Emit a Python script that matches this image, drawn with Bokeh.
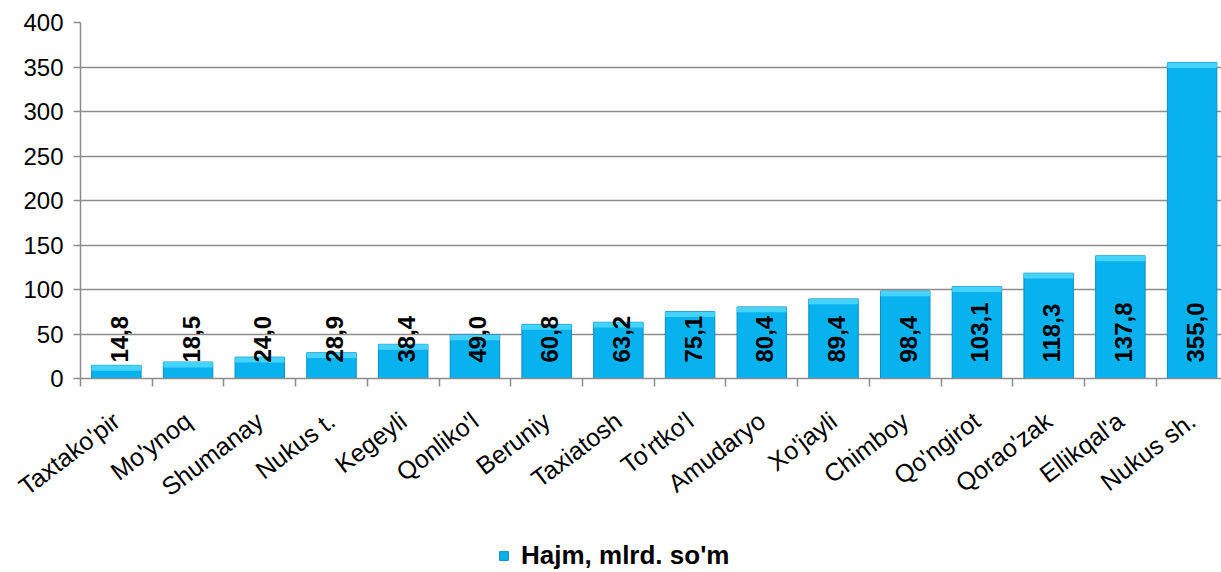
from bokeh.plotting import figure
from bokeh.layouts import column
from bokeh.models import (Range1d, FixedTicker, ColumnDataSource, Legend, LegendItem)
from bokeh.core.properties import value
from bokeh.embed import file_html
from bokeh.resources import INLINE
import math

districts = ["Taxtako'pir", "Mo'ynoq", "Shumanay", "Nukus t.", "Kegeyli", "Qonliko'l",
             "Beruniy", "Taxiatosh", "To'rtko'l", "Amudaryo", "Xo'jayli", "Chimboy",
             "Qo'ngirot", "Qorao'zak", "Ellikqal'a", "Nukus sh."]
volume = [14.8, 18.5, 24.0, 28.9, 38.4, 49.0, 60.8, 63.2, 75.1, 80.4, 89.4, 98.4,
          103.1, 118.3, 137.8, 355.0]
value_labels = ["14,8", "18,5", "24,0", "28,9", "38,4", "49,0", "60,8", "63,2", "75,1",
                "80,4", "89,4", "98,4", "103,1", "118,3", "137,8", "355,0"]
y_ticks = [0, 50, 100, 150, 200, 250, 300, 350, 400]
series_name = "Hajm, mlrd. so'm"

FONT = "Liberation Sans"
GRAY = "#8C8C8C"
BAR_FILL = "#08B2EF"
BAR_LINE = "#0A8DC2"

idx = list(range(len(districts)))
src = ColumnDataSource(dict(x=idx, top=volume, lab=value_labels,
                            hl_bottom=[max(v - 6, 0) for v in volume]))

p = figure(width=1221, height=530, output_backend="svg", toolbar_location=None,
           x_range=Range1d(-0.5, 15.41), y_range=Range1d(0, 400),
           min_border_left=80, min_border_right=0, min_border_top=22,
           min_border_bottom=152)
p.outline_line_color = None
p.background_fill_color = "white"

bars = p.vbar(x="x", top="top", bottom=0, width=0.69, source=src,
              fill_color=BAR_FILL, line_color=BAR_LINE, line_width=1)
p.vbar(x="x", top="top", bottom="hl_bottom", width=0.69, source=src,
       fill_color="#45D2FB", line_color=None)

p.text(x="x", y=0, text="lab", source=src, angle=math.pi / 2,
       text_align="left", text_baseline="middle", y_offset=-16, x_offset=3,
       text_font=value(FONT), text_font_size="24px", text_font_style="bold",
       text_color="black")

# axes
xa = p.xaxis[0]
xa.ticker = FixedTicker(ticks=idx, minor_ticks=[i - 0.5 for i in idx] + [len(idx) - 0.5])
xa.major_label_overrides = {i: d for i, d in zip(idx, districts)}
xa.major_label_orientation = 0.65
xa.major_label_standoff = 31
xa.major_tick_out = 0
xa.major_tick_in = 0
xa.minor_tick_out = 8
xa.minor_tick_in = 0
xa.minor_tick_line_color = GRAY
xa.minor_tick_line_width = 1.5
xa.axis_line_color = GRAY
xa.axis_line_width = 1.5
xa.major_label_text_font = FONT
xa.major_label_text_font_size = "25px"
xa.major_label_text_color = "black"

ya = p.yaxis[0]
ya.ticker = FixedTicker(ticks=y_ticks)
ya.major_tick_out = 7
ya.major_tick_in = 0
ya.minor_tick_line_color = None
ya.major_tick_line_color = GRAY
ya.major_tick_line_width = 1.5
ya.axis_line_color = GRAY
ya.axis_line_width = 1.5
ya.major_label_standoff = 10
ya.major_label_text_font = FONT
ya.major_label_text_font_size = "24px"
ya.major_label_text_color = "black"

p.xgrid.grid_line_color = None
p.ygrid.grid_line_color = GRAY
p.ygrid.grid_line_width = 1.5

# legend strip below the chart
pl = figure(width=1221, height=42, output_backend="svg", toolbar_location=None,
            x_range=Range1d(0, 1), y_range=Range1d(0, 1),
            x_axis_type=None, y_axis_type=None,
            min_border_left=0, min_border_right=0, min_border_top=0, min_border_bottom=0)
pl.outline_line_color = None
pl.xgrid.grid_line_color = None
pl.ygrid.grid_line_color = None
# proxy renderer with no drawable data, only used for the legend key style
nan = float("nan")
proxy = pl.vbar(x=[nan], bottom=[nan], top=[nan], width=0.5,
                fill_color=BAR_FILL, line_color=BAR_LINE)

legend = Legend(items=[LegendItem(label=series_name, renderers=[proxy])],
                location=(418, 1), orientation="horizontal",
                glyph_width=11, glyph_height=11,
                label_standoff=12, padding=0, margin=0, border_line_color=None,
                background_fill_alpha=0, label_text_font=FONT,
                label_text_font_size="26px", label_text_font_style="bold",
                label_text_color="black")
pl.add_layout(legend, "center")

layout = column(p, pl, spacing=0)
open("out.html", "w").write(file_html(layout, INLINE))
